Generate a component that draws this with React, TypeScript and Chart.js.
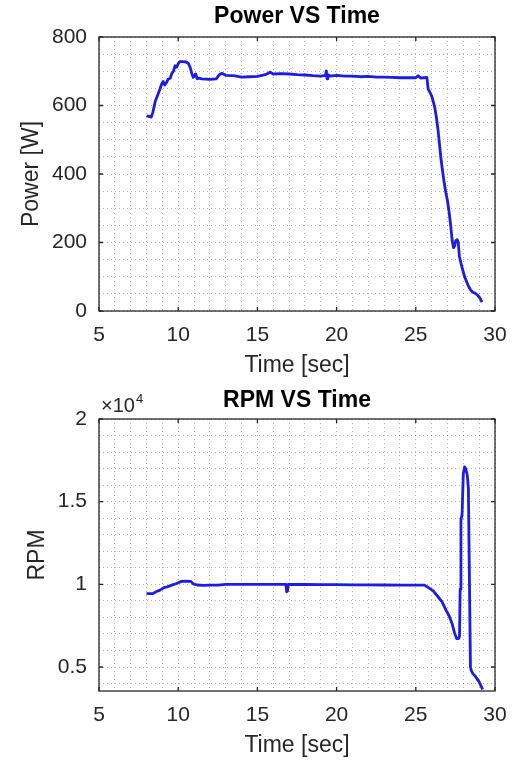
import React, { useEffect, useRef } from "react";
import { Chart, registerables } from "chart.js";

Chart.register(...registerables);

// ---------- data ----------
const powerTime = [8.0, 8.15, 8.3, 8.4, 8.55, 8.7, 8.85, 8.95, 9.05, 9.15, 9.25, 9.35, 9.5, 9.6, 9.7, 9.8, 9.9, 10.0, 10.1, 10.3, 10.5, 10.65, 10.75, 10.85, 10.95, 11.1, 11.2, 11.3, 11.5, 12.0, 12.4, 12.6, 12.75, 13.0, 13.5, 14.0, 14.5, 15.0, 15.5, 15.8, 16.0, 16.5, 17.0, 17.5, 18.0, 18.5, 19.0, 19.3, 19.35, 19.4, 19.45, 19.6, 20.0, 20.5, 21.0, 21.5, 22.0, 22.5, 23.0, 23.5, 24.0, 24.5, 25.0, 25.15, 25.3, 25.5, 25.7, 25.78, 25.9, 26.0, 26.1, 26.2, 26.3, 26.4, 26.5, 26.6, 26.7, 26.8, 26.9, 27.0, 27.1, 27.2, 27.3, 27.38, 27.45, 27.52, 27.62, 27.68, 27.75, 27.85, 27.95, 28.05, 28.15, 28.3, 28.45, 28.6, 28.75, 28.9, 29.05, 29.18];
const powerValues = [570, 568, 566, 580, 612, 630, 648, 662, 670, 660, 666, 676, 680, 694, 700, 716, 712, 722, 728, 728, 727, 722, 712, 695, 682, 692, 678, 680, 678, 676, 678, 690, 694, 688, 687, 683, 684, 685, 690, 697, 692, 693, 692, 690, 689, 687, 686, 688, 701, 678, 690, 686, 688, 686, 686, 684, 685, 683, 683, 682, 681, 681, 681, 687, 680, 681, 682, 648, 638, 628, 612, 594, 565, 530, 485, 440, 405, 372, 345, 322, 290, 250, 205, 185, 190, 205, 208, 200, 160, 140, 122, 105, 92, 75, 62, 55, 52, 46, 38, 26];

const rpmTime = [8.0, 8.4, 8.6, 8.85, 9.1, 9.3, 9.6, 9.9, 10.2, 10.5, 10.8, 10.95, 11.2, 11.6, 12.0, 12.5, 13.0, 14.0, 15.0, 16.0, 16.8, 16.85, 16.9, 16.95, 17.0, 18.0, 19.0, 20.0, 21.0, 22.0, 23.0, 24.0, 25.0, 25.55, 25.8, 26.1, 26.4, 26.65, 26.9, 27.1, 27.3, 27.45, 27.58, 27.7, 27.76, 27.8, 27.85, 27.92, 28.0, 28.08, 28.15, 28.25, 28.32, 28.45, 28.5, 28.6, 28.75, 29.0, 29.22];
const rpmValues = [9440, 9440, 9550, 9650, 9800, 9850, 9950, 10050, 10180, 10200, 10180, 10030, 9960, 9940, 9950, 9950, 10000, 10000, 10000, 10000, 10000, 9550, 9600, 10000, 10000, 9990, 9980, 9980, 9970, 9970, 9960, 9950, 9950, 9950, 9800, 9600, 9250, 8950, 8450, 8100, 7600, 7050, 6720, 6720, 6850, 9700, 13900, 14200, 16700, 17100, 17000, 16600, 15800, 5000, 4800, 4600, 4450, 4100, 3640];

// tick / grid positions
const xGridTicks = [5, 6, 7, 8, 9, 10, 11, 12, 13, 14, 15, 16, 17, 18, 19, 20, 21, 22, 23, 24, 25, 26, 27, 28, 29, 30];
const xMajorTicks = [5, 10, 15, 20, 25, 30];
const powerGridTicks = [0, 50, 100, 150, 200, 250, 300, 350, 400, 450, 500, 550, 600, 650, 700, 750, 800];
const powerMajorTicks = [0, 200, 400, 600, 800];
const rpmGridTicks = [4000, 5000, 6000, 7000, 8000, 9000, 10000, 11000, 12000, 13000, 14000, 15000, 16000, 17000, 18000, 19000, 20000];
const rpmMajorTicks = [5000, 10000, 15000, 20000];

const powerTitle = "Power VS Time";
const rpmTitle = "RPM VS Time";
const xLabel = "Time [sec]";
const powerLabel = "Power [W]";
const rpmLabel = "RPM";

// ---------- styles ----------
const FONT = "'Liberation Sans', Arial, Helvetica, sans-serif";
const TEXT = "#262626";
const GRID = "rgba(0,0,0,0.3)";
const LINE = "rgb(28,28,232)";

const framePlugin = {
  id: "matlabFrame",
  afterDraw(chart: any, _args: any, opts: any) {
    const { ctx, chartArea: a, scales } = chart;
    ctx.save();
    ctx.strokeStyle = TEXT;
    ctx.lineWidth = 1.3;
    ctx.strokeRect(a.left, a.top, a.right - a.left, a.bottom - a.top);
    const L = 4;
    ctx.beginPath();
    for (const v of opts.xMajors) {
      const px = scales.x.getPixelForValue(v);
      ctx.moveTo(px, a.bottom);
      ctx.lineTo(px, a.bottom - L);
      ctx.moveTo(px, a.top);
      ctx.lineTo(px, a.top + L);
    }
    for (const v of opts.yMajors) {
      const py = scales.y.getPixelForValue(v);
      ctx.moveTo(a.left, py);
      ctx.lineTo(a.left + L, py);
      ctx.moveTo(a.right, py);
      ctx.lineTo(a.right - L, py);
    }
    ctx.stroke();

    ctx.fillStyle = "#000";
    ctx.font = `bold 23px ${FONT}`;
    ctx.textAlign = "center";
    ctx.textBaseline = "alphabetic";
    ctx.fillText(opts.title, (a.left + a.right) / 2, opts.titleY);

    if (opts.exponent) {
      ctx.fillStyle = TEXT;
      ctx.textAlign = "left";
      ctx.font = `20px ${FONT}`;
      const base = "\u00d710";
      ctx.fillText(base, a.left + 2, a.top - 7);
      const w = ctx.measureText(base).width;
      ctx.font = `13px ${FONT}`;
      ctx.fillText(opts.exponent, a.left + 3 + w, a.top - 16);
    }
    ctx.restore();
  },
};

function buildConfig(p: {
  times: number[];
  values: number[];
  yMin: number;
  yMax: number;
  yGrid: number[];
  yMajors: number[];
  yFmt: (v: number) => string;
  yLabel: string;
  yLabelPad: number;
  title: string;
  titleY: number;
  topPad: number;
  exponent?: string;
}) {
  const tickFont = { family: FONT, size: 21 };
  const labelFont = { family: FONT, size: 23 };
  return {
    type: "line",
    data: {
      datasets: [
        {
          data: p.times.map((t, i) => ({ x: t, y: p.values[i] })),
          borderColor: LINE,
          borderWidth: 2.8,
          pointRadius: 0,
          tension: 0,
          fill: false,
          borderJoinStyle: "round",
        },
      ],
    },
    options: {
      responsive: false,
      animation: false,
      devicePixelRatio: 1,
      layout: { padding: { top: p.topPad, right: 24, left: 0, bottom: 0 } },
      plugins: {
        legend: { display: false },
        tooltip: { enabled: false },
        title: { display: false },
        matlabFrame: {
          xMajors: xMajorTicks,
          yMajors: p.yMajors,
          title: p.title,
          titleY: p.titleY,
          exponent: p.exponent,
        },
      },
      scales: {
        x: {
          type: "linear",
          min: 5,
          max: 30,
          afterFit: (s: any) => {
            s.height = 69;
          },
          afterBuildTicks: (s: any) => {
            s.ticks = xGridTicks.map((v) => ({ value: v }));
          },
          ticks: {
            autoSkip: false,
            maxRotation: 0,
            padding: 12,
            color: TEXT,
            font: tickFont,
            callback: (v: any) => (xMajorTicks.includes(Number(v)) ? String(v) : ""),
          },
          grid: { color: GRID, lineWidth: 1, drawTicks: false },
          border: { display: false, dash: [1, 3] },
          title: {
            display: true,
            text: xLabel,
            color: TEXT,
            font: labelFont,
            padding: { top: 0, bottom: 1 },
          },
        },
        y: {
          type: "linear",
          min: p.yMin,
          max: p.yMax,
          afterFit: (s: any) => {
            s.width = 99;
          },
          afterBuildTicks: (s: any) => {
            s.ticks = p.yGrid.map((v) => ({ value: v }));
          },
          ticks: {
            autoSkip: false,
            padding: 12,
            color: TEXT,
            font: tickFont,
            callback: (v: any) => (p.yMajors.includes(Number(v)) ? p.yFmt(Number(v)) : ""),
          },
          grid: { color: GRID, lineWidth: 1, drawTicks: false },
          border: { display: false, dash: [1, 3] },
          title: {
            display: true,
            text: p.yLabel,
            color: TEXT,
            font: labelFont,
            padding: { top: p.yLabelPad, bottom: 0 },
          },
        },
      },
    },
    plugins: [framePlugin],
  } as any;
}

function Plot(props: { cfg: any; top: number }) {
  const ref = useRef<HTMLCanvasElement | null>(null);
  useEffect(() => {
    if (!ref.current) return;
    const chart = new Chart(ref.current, props.cfg);
    return () => chart.destroy();
  }, []);
  return (
    <canvas
      ref={ref}
      width={519}
      height={380}
      style={{ position: "absolute", left: 0, top: props.top, width: 519, height: 380 }}
    />
  );
}

export default function App() {
  const powerCfg = buildConfig({
    times: powerTime,
    values: powerValues,
    yMin: 0,
    yMax: 800,
    yGrid: powerGridTicks,
    yMajors: powerMajorTicks,
    yFmt: (v) => String(v),
    yLabel: powerLabel,
    yLabelPad: 18,
    title: powerTitle,
    titleY: 23,
    topPad: 37,
  });
  const rpmCfg = buildConfig({
    times: rpmTime,
    values: rpmValues,
    yMin: 3550,
    yMax: 20000,
    yGrid: rpmGridTicks,
    yMajors: rpmMajorTicks,
    yFmt: (v) => String(v / 10000),
    yLabel: rpmLabel,
    yLabelPad: 24,
    title: rpmTitle,
    titleY: 27,
    topPad: 39,
    exponent: "4",
  });
  return (
    <div style={{ position: "absolute", left: 0, top: 0, width: 519, height: 760, background: "#fff" }}>
      <Plot cfg={powerCfg} top={0} />
      <Plot cfg={rpmCfg} top={380} />
    </div>
  );
}
